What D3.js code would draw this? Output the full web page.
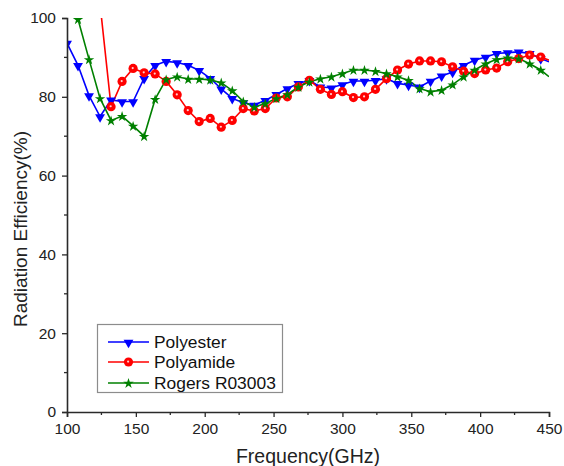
<!DOCTYPE html>
<html>
<head>
<meta charset="utf-8">
<script src="https://cdn.jsdelivr.net/npm/d3@7"></script>
<style>
  html, body { margin: 0; padding: 0; background: #fff; }
  svg { display: block; font-family: 'Liberation Sans', Arial, sans-serif; }
</style>
</head>
<body>
<div id="chart"></div>
<script>
'use strict';

// data
const polyesterFreq = [100, 108, 116, 124, 132, 140, 148, 156, 164, 172, 180, 188, 196, 204, 212, 220, 228, 236, 244, 252, 260, 268, 276, 284, 292, 300, 308, 316, 324, 332, 340, 348, 356, 364, 372, 380, 388, 396, 404, 412, 420, 428, 436, 444, 450];
const polyesterEff = [93.6, 88.0, 80.3, 75.0, 79.2, 78.8, 78.8, 84.7, 88.0, 89.0, 88.7, 88.0, 86.7, 84.7, 82.0, 79.6, 78.5, 77.9, 79.1, 80.6, 82.1, 83.4, 84.2, 82.5, 82.3, 83.1, 84.0, 84.0, 84.2, 84.6, 83.4, 83.0, 82.5, 84.0, 85.3, 86.3, 88.0, 89.3, 90.1, 91.0, 91.2, 91.4, 91.0, 89.7, 88.9];

const polyamideFreq = [124, 132, 140, 148, 156, 164, 172, 180, 188, 196, 204, 212, 220, 228, 236, 244, 252, 260, 268, 276, 284, 292, 300, 308, 316, 324, 332, 340, 348, 356, 364, 372, 380, 388, 396, 404, 412, 420, 428, 436, 444, 450];
const polyamideEff = [103.5, 77.5, 83.9, 87.2, 86.1, 85.8, 83.9, 80.5, 76.5, 73.7, 74.5, 72.3, 74.0, 77.0, 76.4, 77.0, 79.7, 80.0, 82.5, 84.2, 81.9, 80.6, 81.3, 79.8, 80.0, 81.9, 84.6, 86.8, 88.3, 89.1, 89.1, 88.9, 87.6, 86.5, 85.9, 86.8, 87.3, 88.9, 89.7, 90.6, 90.1, 89.3];

const rogersFreq = [108, 116, 124, 132, 140, 148, 156, 164, 172, 180, 188, 196, 204, 212, 220, 228, 236, 244, 252, 260, 268, 276, 284, 292, 300, 308, 316, 324, 332, 340, 348, 356, 364, 372, 380, 388, 396, 404, 412, 420, 428, 436, 444, 450];
const rogersEff = [99.7, 89.5, 79.6, 74.0, 75.1, 72.6, 70.0, 79.4, 84.4, 85.1, 84.5, 84.5, 84.3, 83.6, 81.6, 78.8, 77.4, 78.3, 79.6, 80.6, 82.5, 83.8, 84.6, 85.1, 85.9, 86.8, 86.8, 86.5, 85.9, 85.1, 84.2, 82.1, 81.3, 81.7, 83.1, 85.1, 86.8, 88.4, 89.5, 89.9, 89.7, 88.4, 86.8, 85.1];

const seriesNames = ['Polyester', 'Polyamide', 'Rogers R03003'];
const xTicks = [100, 150, 200, 250, 300, 350, 400, 450];
const yTicks = [0, 20, 40, 60, 80, 100];

(function(doc) {

    const width = 564;
    const height = 466;
    const plot = {left: 67, right: 549, top: 18, bottom: 412};

    const svg = d3.select('#chart').append('svg')
        .attr('width', width)
        .attr('height', height);

    svg.append('rect')
        .attr('width', width)
        .attr('height', height)
        .attr('fill', '#fff');

    const x = d3.scaleLinear().domain([100, 450]).range([plot.left, plot.right]);
    const y = d3.scaleLinear().domain([0, 100]).range([plot.bottom, plot.top]);

    svg.append('defs').append('clipPath')
        .attr('id', 'plotClip')
        .append('rect')
        .attr('x', plot.left)
        .attr('y', plot.top)
        .attr('width', plot.right - plot.left)
        .attr('height', plot.bottom - plot.top);

    const zip = (fs, vs) => fs.map((f, i) => ({f: f, v: vs[i]}));

    const series = [
        {name: seriesNames[0], color: '#0000ff', marker: 'triangle', data: zip(polyesterFreq, polyesterEff)},
        {name: seriesNames[1], color: '#ff0000', marker: 'circle', data: zip(polyamideFreq, polyamideEff)},
        {name: seriesNames[2], color: '#008000', marker: 'star', data: zip(rogersFreq, rogersEff)},
    ];

    const triangle = d3.symbol().type(d3.symbolTriangle).size(42);
    const star = d3.symbol().type(d3.symbolStar).size(34);

    const drawMarker = (g, s, cx, cy) => {
        if (s.marker === 'triangle') {
            g.append('path')
                .attr('d', triangle())
                .attr('transform', `translate(${cx}, ${cy + 0.5}) rotate(180)`)
                .attr('fill', s.color);
        } else if (s.marker === 'circle') {
            g.append('circle')
                .attr('cx', cx).attr('cy', cy).attr('r', 4.6)
                .attr('fill', s.color);
            g.append('circle')
                .attr('cx', cx - 0.4).attr('cy', cy - 0.4).attr('r', 1.1)
                .attr('fill', '#ffd0d0');
        } else {
            g.append('path')
                .attr('d', star())
                .attr('transform', `translate(${cx}, ${cy + 0.5})`)
                .attr('fill', s.color);
        }
    };

    const line = d3.line().x(d => x(d.f)).y(d => y(d.v));
    const plotG = svg.append('g').attr('clip-path', 'url(#plotClip)');

    for (const s of series) {
        plotG.append('path')
            .datum(s.data)
            .attr('d', line)
            .attr('fill', 'none')
            .attr('stroke', s.color)
            .attr('stroke-width', 1.6);
    }
    for (const s of series) {
        const mg = plotG.append('g');
        for (const d of s.data) {
            if (d.f >= 450) continue; // the curves run to the edge without a marker
            drawMarker(mg, s, x(d.f), y(d.v));
        }
    }

    // axes
    const axisColor = '#2a2a2a';
    const xAxis = svg.append('g')
        .attr('transform', `translate(0, ${plot.bottom})`)
        .call(d3.axisBottom(x).tickValues(xTicks).tickSize(5).tickPadding(6).tickFormat(d3.format('d')));
    xAxis.append('g').selectAll('line')
        .data(d3.range(125, 450, 50)).enter().append('line')
        .attr('x1', d => x(d)).attr('x2', d => x(d))
        .attr('y1', 0).attr('y2', 3);

    const yAxis = svg.append('g')
        .attr('transform', `translate(${plot.left}, 0)`)
        .call(d3.axisLeft(y).tickValues(yTicks).tickSize(5).tickPadding(6).tickFormat(d3.format('d')));
    yAxis.append('g').selectAll('line')
        .data(d3.range(10, 100, 20)).enter().append('line')
        .attr('y1', d => y(d)).attr('y2', d => y(d))
        .attr('x1', 0).attr('x2', -3);

    for (const ax of [xAxis, yAxis]) {
        ax.select('.domain').attr('stroke', axisColor).attr('stroke-width', 1.6);
        ax.selectAll('line').attr('stroke', axisColor).attr('stroke-width', 1.3);
        ax.selectAll('text')
            .attr('fill', '#222')
            .style('font-size', '15.5px')
            .style('font-family', "'Liberation Sans', Arial, sans-serif");
    }

    svg.append('text')
        .attr('x', (plot.left + plot.right) / 2)
        .attr('y', 463)
        .attr('text-anchor', 'middle')
        .attr('fill', '#222')
        .style('font-size', '19.5px')
        .text('Frequency(GHz)');

    svg.append('text')
        .attr('transform', 'translate(27, 229) rotate(-90)')
        .attr('text-anchor', 'middle')
        .attr('fill', '#222')
        .style('font-size', '19px')
        .text('Radiation Efficiency(%)');

    // legend
    const legend = svg.append('g');
    legend.append('rect')
        .attr('x', 97.5).attr('y', 324.5)
        .attr('width', 185).attr('height', 68)
        .attr('fill', '#fff')
        .attr('stroke', '#8c8c8c')
        .attr('stroke-width', 1.2);
    const rowY = [342, 362, 383];
    series.forEach((s, i) => {
        legend.append('line')
            .attr('x1', 108).attr('x2', 149)
            .attr('y1', rowY[i]).attr('y2', rowY[i])
            .attr('stroke', s.color)
            .attr('stroke-width', 1.6);
        drawMarker(legend, s, 128.5, rowY[i]);
        legend.append('text')
            .attr('x', 154)
            .attr('y', rowY[i] + 6)
            .attr('fill', '#111')
            .style('font-size', '17.4px')
            .text(s.name);
    });

}(document));
</script>
</body>
</html>
